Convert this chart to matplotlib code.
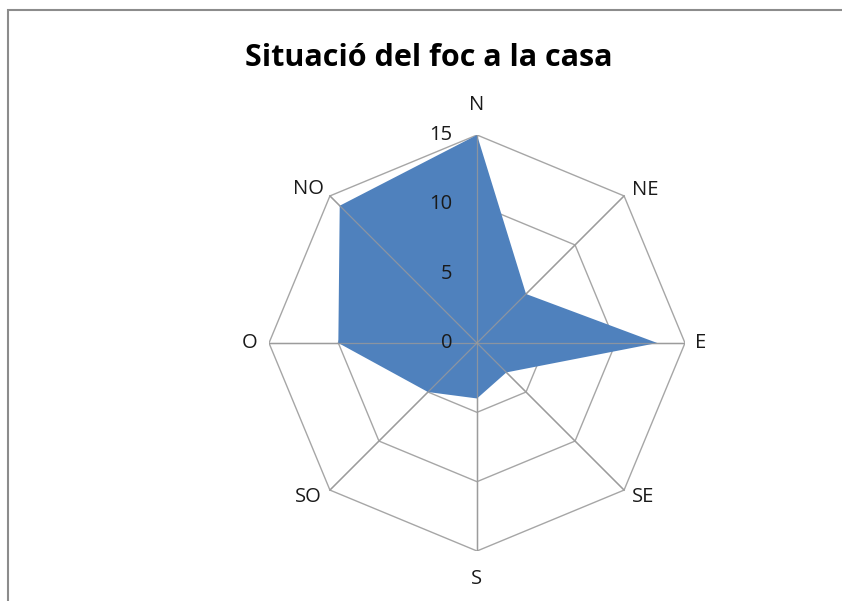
import numpy as np
import matplotlib
matplotlib.use("Agg")
import matplotlib.pyplot as plt
from matplotlib.patches import Rectangle

title = "Situació del foc a la casa"
directions = ["N", "NE", "E", "SE", "S", "SO", "O", "NO"]
values = [15, 5, 13, 3, 4, 5, 10, 14]
ring_values = [0, 5, 10, 15]
rmax = 15

plt.rcParams['font.family'] = ['Open Sans', 'DejaVu Sans']

W, H = 842, 601
fig = plt.figure(figsize=(W / 100, H / 100), dpi=100)

cx, cy, R = 477, 343, 208
ax = fig.add_axes([(cx - R) / W, (H - cy - R) / H, 2 * R / W, 2 * R / H])
ax.set_xlim(-rmax, rmax)
ax.set_ylim(-rmax, rmax)
ax.set_aspect('equal')
ax.axis('off')

n = len(directions)
ang = np.arange(n) * 2 * np.pi / n
sx, sy = np.sin(ang), np.cos(ang)

grid_c = '#a6a6a6'
# rings
for rv in ring_values[1:]:
    ax.plot(np.append(rv * sx, rv * sx[0]), np.append(rv * sy, rv * sy[0]),
            color=grid_c, lw=1.0, zorder=1)
# spokes
for i in range(n):
    ax.plot([0, rmax * sx[i]], [0, rmax * sy[i]], color=grid_c, lw=1.0, zorder=1)

v = np.array(values, dtype=float)
ax.fill(v * sx, v * sy, color='#4f81bd', lw=0, zorder=2)
# spokes on top (visible through fill in reference)
for i in range(n):
    ax.plot([0, rmax * sx[i]], [0, rmax * sy[i]], color='#9a9a9a', lw=0.9, zorder=3, alpha=0.8)

# direction labels (offsets in pixels)
offsets = {
    "N": (0, 20, 'center', 'bottom'),
    "NE": (8, 6, 'left', 'center'),
    "E": (10, 0, 'left', 'center'),
    "SE": (8, -7, 'left', 'center'),
    "S": (0, -18, 'center', 'top'),
    "SO": (-8, -7, 'right', 'center'),
    "O": (-12, 0, 'right', 'center'),
    "NO": (-6, 7, 'right', 'center'),
}
for i, d in enumerate(directions):
    dx, dy, ha, va = offsets[d]
    ax.annotate(d, (rmax * sx[i], rmax * sy[i]), xytext=(dx * 0.72, dy * 0.72),
                textcoords='offset points', ha=ha, va=va, fontsize=14.5,
                color='#1a1a1a', annotation_clip=False)

# ring value labels
for rv in ring_values:
    ax.annotate(str(rv), (0, rv), xytext=(-18, 0), textcoords='offset points',
                ha='right', va='center', fontsize=14.5, color='#1a1a1a',
                annotation_clip=False)

fig.text(429 / W, 1 - 58 / H, title, ha='center', va='center', fontsize=22,
         fontweight='bold', color='black')

# chart border
fig.patches.append(Rectangle((8 / W, -0.05), 1.2, 1 - 10 / H + 0.05,
                             transform=fig.transFigure, fill=False,
                             edgecolor='#8c8c8c', lw=1.5))

fig.savefig('out.png', dpi=100, facecolor='white')
